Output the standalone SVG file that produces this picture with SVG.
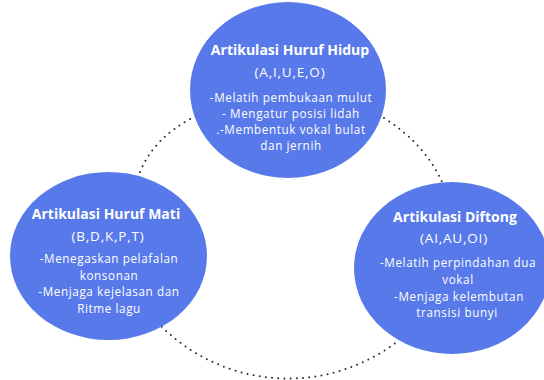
<svg xmlns="http://www.w3.org/2000/svg" width="544" height="380" viewBox="0 0 544 380">
<style>
.bg{fill:#ffffff}
.node{fill:#5879E9}
.dot{fill:none;stroke:#2b2b2b;stroke-width:2;stroke-linecap:round;stroke-dasharray:0 6.2}
.t{font-family:"Open Sans","Liberation Sans",sans-serif;fill:#ffffff;text-anchor:middle}
.h{font-weight:700;font-size:14px}
.s{font-size:13.5px;letter-spacing:0.8px}
.b{font-size:11.7px;letter-spacing:0.6px}
</style>
<rect class="bg" width="544" height="380"/>
<g id="connectors">
<path class="dot" d="M140,172 Q154,138 192,118"/>
<path class="dot" d="M384,118 Q425,144 442,182"/>
<path class="dot" d="M161.7,326.7 A180,180 0 0 0 395,343.3"/>
</g>
<g id="node-hidup">
<ellipse class="node" cx="288" cy="90" rx="98" ry="88"/>
<text class="t h" x="290" y="55">Artikulasi Huruf Hidup</text>
<text class="t s" x="290" y="77">(A,I,U,E,O)</text>
<text class="t b" x="291" y="102">-Melatih pembukaan mulut</text>
<text class="t b" x="291" y="118">- Mengatur posisi lidah</text>
<text class="t b" x="291" y="134">.-Membentuk vokal bulat</text>
<text class="t b" x="291" y="150">dan jernih</text>
</g>
<g id="node-mati">
<ellipse class="node" cx="108.5" cy="256" rx="98.5" ry="84"/>
<text class="t h" x="106" y="218.5">Artikulasi Huruf Mati</text>
<text class="t s" x="108" y="241">(B,D,K,P,T)</text>
<text class="t b" x="109" y="263">-Menegaskan pelafalan</text>
<text class="t b" x="109" y="280">konsonan</text>
<text class="t b" x="109" y="296">-Menjaga kejelasan dan</text>
<text class="t b" x="109" y="313">Ritme lagu</text>
</g>
<g id="node-diftong">
<ellipse class="node" cx="452" cy="268" rx="98" ry="86"/>
<text class="t h" x="455" y="222">Artikulasi Diftong</text>
<text class="t s" x="454" y="243">(AI,AU,OI)</text>
<text class="t b" x="458" y="267">-Melatih perpindahan dua</text>
<text class="t b" x="458" y="284">vokal</text>
<text class="t b" x="459" y="301">-Menjaga kelembutan</text>
<text class="t b" x="457" y="317">transisi bunyi</text>
</g>
</svg>
